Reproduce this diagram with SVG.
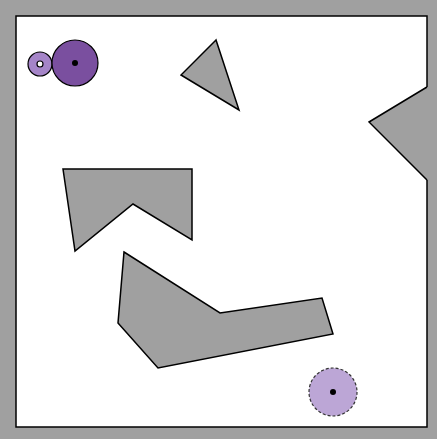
<svg xmlns="http://www.w3.org/2000/svg" width="437" height="439" viewBox="0 0 437 439">
<style>
.obs{fill:#a0a0a0;stroke:#000;stroke-width:1.5;stroke-linejoin:miter}
.dot{fill:#000}
</style>
<rect x="0" y="0" width="437" height="439" fill="#a0a0a0"/>
<rect x="16" y="16" width="411" height="411" fill="#fff" stroke="#000" stroke-width="1.5"/>
<g id="obstacles">
<polygon id="tri" class="obs" points="216,40 181,75 239,110"/>
<polygon id="chevron" class="obs" points="63,169 192,169 192,240 133,204 75,251"/>
<polygon id="boomerang" class="obs" points="124,252 220,313 322,298 333,334 158,368 118,323"/>
<g id="wedge">
<polygon points="427,87 369,122 427,180 428,180 428,87" fill="#a0a0a0"/>
<polyline points="427,87 369,122 427,180" fill="none" stroke="#000" stroke-width="1.5"/>
</g>
</g>
<g id="start">
<circle cx="40" cy="64" r="12" fill="#a585c8" stroke="#000" stroke-width="1.2"/>
<circle cx="40" cy="64" r="3" fill="#fff" stroke="#000" stroke-width="1.2"/>
</g>
<g id="robot">
<circle cx="75" cy="63" r="23" fill="#7a4f9f" stroke="#000" stroke-width="1.2"/>
<circle class="dot" cx="75" cy="63" r="3"/>
</g>
<g id="goal">
<circle cx="333" cy="392" r="24" fill="#bca6d6" stroke="#333" stroke-width="1.2" stroke-dasharray="3,2"/>
<circle class="dot" cx="333" cy="392" r="3"/>
</g>
<g id="connectors"/>
</svg>
